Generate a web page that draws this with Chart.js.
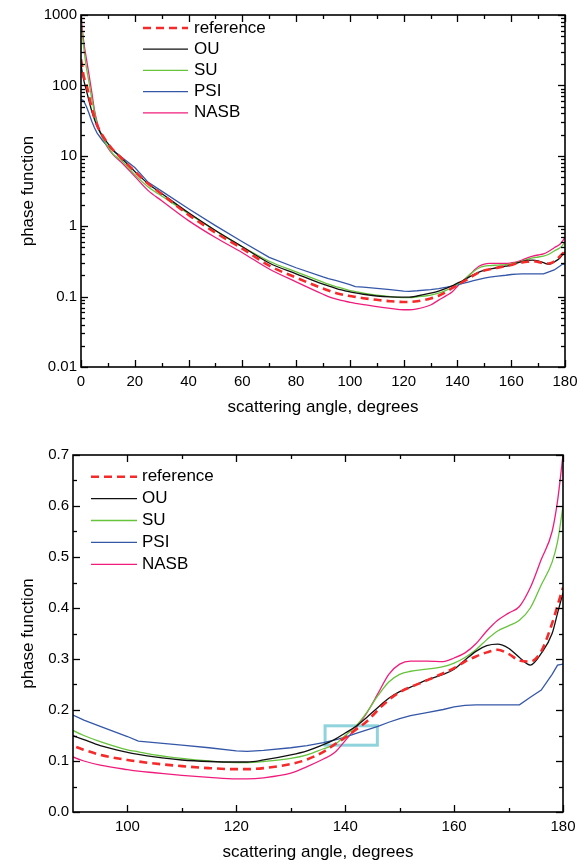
<!DOCTYPE html>
<html><head><meta charset="utf-8">
<script src="https://cdn.jsdelivr.net/npm/chart.js@4/dist/chart.umd.min.js"></script>
<style>
html,body{margin:0;padding:0;background:#fff;}
#w1{position:absolute;left:0;top:0;width:584px;height:430px;}
#w2{position:absolute;left:0;top:430px;width:584px;height:435px;}
</style></head><body>
<div id="w1"><canvas id="c1" width="584" height="430"></canvas></div>
<div id="w2"><canvas id="c2" width="584" height="435"></canvas></div>
<script>
// scattering angle (degrees)
const angles = [0,0.5,1,2,3,4,5,6,8,10, 12,15,20,25,30,40,50,60,70,80,
  90,92,95,100,102,105,110,115,120,122, 125,130,133,136,138,140,142,144,146,148,
  150,152,155,158,160,162,164,166,168,170, 172,174,176,178,179,180];

const reference = [235,180,135,105,70,48,35,27,19.5,15, 12,9.3,6.0,4.0,2.86,1.45,0.81,0.48,0.275,0.186,
  0.13,0.122,0.112,0.102,0.099,0.095,0.09,0.086,0.084,0.084, 0.086,0.094,0.103,0.118,0.132,0.146,0.162,0.178,0.2,0.22,
  0.235,0.245,0.258,0.272,0.282,0.295,0.305,0.313,0.318,0.31, 0.297,0.295,0.315,0.37,0.405,0.44];

const OU = [195,150,120,85,60,43,33,26,19,15, 12,9.3,6.0,4.0,2.91,1.55,0.87,0.51,0.30,0.211,
  0.15,0.142,0.13,0.117,0.113,0.108,0.102,0.099,0.098,0.098, 0.102,0.112,0.12,0.132,0.142,0.155,0.168,0.186,0.205,0.223,
  0.236,0.245,0.259,0.27,0.28,0.298,0.315,0.326,0.329,0.321, 0.303,0.288,0.311,0.35,0.39,0.43];

const SU = [770,520,350,180,110,65,42,28,18,13.5, 10.5,8.6,5.4,3.6,2.69,1.51,0.87,0.51,0.318,0.224,
  0.16,0.15,0.138,0.122,0.118,0.112,0.105,0.1,0.097,0.097, 0.099,0.105,0.112,0.124,0.132,0.15,0.169,0.196,0.228,0.255,
  0.27,0.276,0.28,0.285,0.292,0.303,0.318,0.338,0.355,0.365, 0.376,0.40,0.445,0.49,0.53,0.60];

const PSI = [62,62,60,50,40,31,25,21,16.5,13.5, 11.8,9.6,6.8,4.2,3.15,1.77,1.02,0.60,0.36,0.257,
  0.19,0.18,0.168,0.148,0.139,0.136,0.131,0.126,0.12,0.119, 0.121,0.126,0.13,0.136,0.141,0.147,0.154,0.161,0.168,0.176,
  0.183,0.189,0.195,0.201,0.206,0.209,0.21,0.21,0.21,0.21, 0.21,0.225,0.239,0.27,0.288,0.29];

const NASB = [1000,620,420,240,140,80,45,30,18,12.9, 10.3,8.1,5.1,3.2,2.3,1.2,0.69,0.42,0.247,0.162,
  0.108,0.1,0.092,0.083,0.08,0.077,0.072,0.068,0.065,0.065, 0.067,0.076,0.089,0.104,0.116,0.14,0.166,0.195,0.232,0.27,
  0.29,0.296,0.296,0.295,0.302,0.312,0.33,0.355,0.376,0.39, 0.403,0.44,0.495,0.55,0.61,0.70];

// tick labels
const topXTicks = [0,20,40,60,80,100,120,140,160,180];
const topXMinor = [10,30,50,70,90,110,130,150,170];
const topYTicks = [0.01,0.1,1,10,100,1000];
const topYLabels = ['0.01','0.1','1','10','100','1000'];
const botXTicks = [100,120,140,160,180];
const botXMinor = [110,130,150,170];
const botYTicks = [0.0,0.1,0.2,0.3,0.4,0.5,0.6,0.7];
const botYMinor = [0.05,0.15,0.25,0.35,0.45,0.55,0.65];
// highlighted region in lower panel: [x1, x2, y1, y2]
const highlightBox = [136.3, 145.9, 0.131, 0.169];

const FONT = "'Liberation Sans', Arial, Helvetica, sans-serif";

function pts(vals){ return angles.map((a,i)=>({x:a, y:vals[i]})); }
function makeDatasets(){
  return [
    {label:'reference', data:pts(reference), borderColor:'#f52a2a', borderWidth:2.6, borderDash:[8,5], cubicInterpolationMode:'monotone'},
    {label:'OU', data:pts(OU), borderColor:'#111111', borderWidth:1.3, cubicInterpolationMode:'monotone'},
    {label:'SU', data:pts(SU), borderColor:'#66c43c', borderWidth:1.3, cubicInterpolationMode:'monotone'},
    {label:'PSI', data:pts(PSI), borderColor:'#3557a8', borderWidth:1.3, tension:0},
    {label:'NASB', data:pts(NASB), borderColor:'#f01c7c', borderWidth:1.3, cubicInterpolationMode:'monotone'}
  ].map(d=>Object.assign({pointRadius:0, fill:false}, d));
}

const framePlugin = {
  id:'frame',
  afterDatasetsDraw(chart, args, o){
    const {ctx, chartArea:a} = chart;
    const xs = chart.scales.x, ys = chart.scales.y;
    ctx.save();
    ctx.strokeStyle = '#000';
    ctx.lineWidth = 1.6;
    ctx.strokeRect(a.left, a.top, a.right-a.left, a.bottom-a.top);
    ctx.lineWidth = 1.3;
    const seg=(x1,y1,x2,y2)=>{ctx.beginPath();ctx.moveTo(x1,y1);ctx.lineTo(x2,y2);ctx.stroke();};
    const xt=(v,len)=>{const p=Math.round(xs.getPixelForValue(v))+0.5; seg(p,a.bottom,p,a.bottom-len); seg(p,a.top,p,a.top+len);};
    const yt=(v,len)=>{const p=Math.round(ys.getPixelForValue(v))+0.5; seg(a.left,p,a.left+len,p); seg(a.right,p,a.right-len,p);};
    o.xMajor.forEach(v=>xt(v,7));
    o.xMinor.forEach(v=>xt(v,4));
    o.yMajor.forEach(v=>yt(v,7));
    o.yMinor.forEach(v=>yt(v,4));
    ctx.restore();
  }
};

const legendPlugin = {
  id:'boxLegend',
  afterDraw(chart, args, o){
    const {ctx, chartArea:a} = chart;
    chart.data.datasets.forEach((ds,i)=>{
      const y = a.top + o.y0 + i*o.dy;
      ctx.save();
      ctx.strokeStyle = ds.borderColor; ctx.lineWidth = ds.borderWidth;
      ctx.setLineDash(ds.borderDash||[]);
      ctx.beginPath(); ctx.moveTo(a.left+o.x0, y); ctx.lineTo(a.left+o.x1, y); ctx.stroke();
      ctx.setLineDash([]);
      ctx.fillStyle = '#000'; ctx.font = o.size + 'px ' + FONT;
      ctx.textBaseline = 'middle'; ctx.textAlign = 'left';
      ctx.fillText(ds.label, a.left+o.tx, y);
      ctx.restore();
    });
  }
};

const boxPlugin = {
  id:'hbox',
  beforeDatasetsDraw(chart, args, o){
    if(!o.box) return;
    const {ctx} = chart; const xs=chart.scales.x, ys=chart.scales.y;
    const x1=xs.getPixelForValue(o.box[0]), x2=xs.getPixelForValue(o.box[1]);
    const y1=ys.getPixelForValue(o.box[2]), y2=ys.getPixelForValue(o.box[3]);
    ctx.save(); ctx.strokeStyle='#8fd3dc'; ctx.lineWidth=3;
    ctx.strokeRect(x1, y2, x2-x1, y1-y2); ctx.restore();
  }
};

// log minor ticks 2..9 per decade
const topYMinor = [];
topYTicks.slice(0,-1).forEach(d=>{ for(let k=2;k<=9;k++) topYMinor.push(d*k); });

Chart.defaults.font.family = FONT;
Chart.defaults.color = '#000';

new Chart(document.getElementById('c1'), {
  type:'line',
  data:{datasets:makeDatasets()},
  plugins:[framePlugin, legendPlugin],
  options:{
    responsive:false, animation:false, devicePixelRatio:1,
    layout:{padding:{top:15, right:19, left:0, bottom:0}},
    plugins:{legend:{display:false}, tooltip:{enabled:false},
      frame:{xMajor:topXTicks, xMinor:topXMinor, yMajor:topYTicks, yMinor:topYMinor},
      boxLegend:{x0:62, x1:107, tx:113, y0:13, dy:21.2, size:17}
    },
    scales:{
      x:{type:'linear', min:0, max:180, grid:{display:false, drawTicks:false}, border:{display:false},
        afterBuildTicks:s=>{s.ticks = topXTicks.map(v=>({value:v}));},
        afterFit:s=>{s.height=63;},
        ticks:{font:{size:15}, padding:6, maxRotation:0, autoSkip:false, callback:v=>String(v)},
        title:{display:true, text:'scattering angle, degrees', font:{size:17}, padding:{top:0,bottom:12}}
      },
      y:{type:'logarithmic', min:0.01, max:1000, grid:{display:false, drawTicks:false}, border:{display:false},
        afterBuildTicks:s=>{s.ticks = topYTicks.map(v=>({value:v}));},
        afterFit:s=>{s.width=81;},
        ticks:{font:{size:15}, padding:4, autoSkip:false, callback:(v)=>{const i=topYTicks.findIndex(t=>Math.abs(t-v)/t<1e-6); return i>=0?topYLabels[i]:'';}},
        title:{display:true, text:'phase function', font:{size:17}, padding:{top:18,bottom:0}}
      }
    }
  }
});

new Chart(document.getElementById('c2'), {
  type:'line',
  data:{datasets:makeDatasets()},
  plugins:[boxPlugin, framePlugin, legendPlugin],
  options:{
    responsive:false, animation:false, devicePixelRatio:1,
    layout:{padding:{top:25, right:21, left:0, bottom:0}},
    plugins:{legend:{display:false}, tooltip:{enabled:false},
      hbox:{box:highlightBox},
      frame:{xMajor:botXTicks, xMinor:botXMinor, yMajor:botYTicks, yMinor:botYMinor},
      boxLegend:{x0:18, x1:64, tx:69, y0:21.7, dy:21.9, size:17}
    },
    scales:{
      x:{type:'linear', min:90, max:180, grid:{display:false, drawTicks:false}, border:{display:false},
        afterBuildTicks:s=>{s.ticks = botXTicks.map(v=>({value:v}));},
        afterFit:s=>{s.height=53;},
        ticks:{font:{size:15}, padding:6, maxRotation:0, autoSkip:false, callback:v=>String(v)},
        title:{display:true, text:'scattering angle, degrees', font:{size:17}, padding:{top:0,bottom:2}}
      },
      y:{type:'linear', min:0, max:0.7, grid:{display:false, drawTicks:false}, border:{display:false},
        afterBuildTicks:s=>{s.ticks = botYTicks.map(v=>({value:v}));},
        afterFit:s=>{s.width=73;},
        ticks:{font:{size:15}, padding:4, autoSkip:false, callback:v=>Number(v).toFixed(1)},
        title:{display:true, text:'phase function', font:{size:17}, padding:{top:18,bottom:0}}
      }
    }
  }
});
</script>
</body></html>
